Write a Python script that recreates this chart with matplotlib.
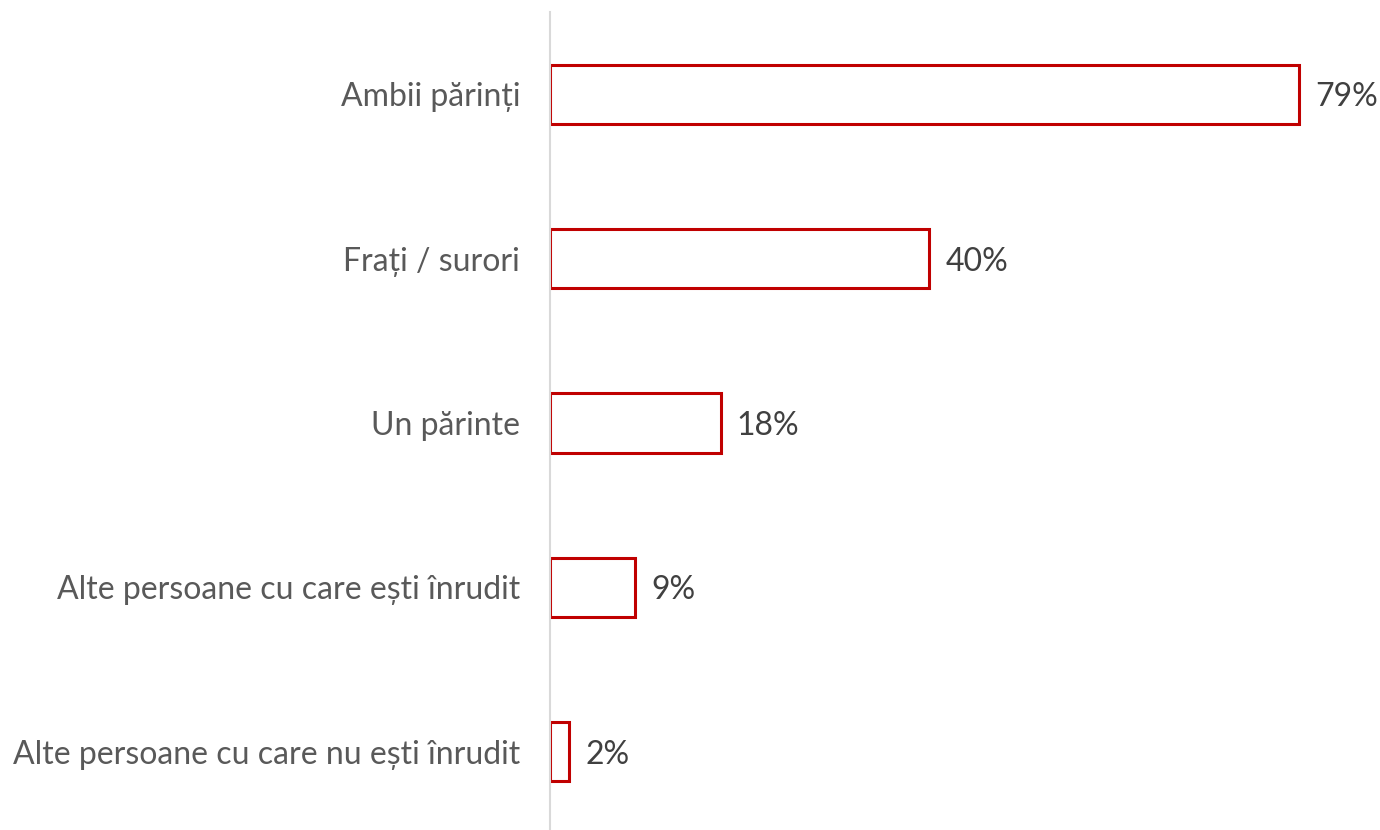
import matplotlib
matplotlib.use("Agg")
import matplotlib.pyplot as plt

plt.rcParams['font.family'] = ['Lato', 'DejaVu Sans']

categories = [
    "Ambii părinți",
    "Frați / surori",
    "Un părinte",
    "Alte persoane cu care ești înrudit",
    "Alte persoane cu care nu ești înrudit",
]
values = [79, 40, 18, 9, 2]

fig = plt.figure(figsize=(13.8, 8.3), dpi=100)
ax = fig.add_axes([550 / 1380, -4 / 830, 830 / 1380, 822 / 830])

y = list(range(len(categories)))
ax.barh(y, values, height=0.36, color='white', edgecolor='#C00000', linewidth=2.2)

for yi, v in zip(y, values):
    ax.text(v + 1.7, yi, f"{v}%", va='center_baseline', ha='left', fontsize=23, color='#404040')

ax.set_yticks(y)
ax.set_yticklabels(categories, fontsize=23, color='#595959', va='center_baseline')
ax.tick_params(axis='y', length=0, pad=21.5)
ax.set_xticks([])
ax.set_xlim(0, 87.5)
ax.set_ylim(len(categories) - 0.5, -0.5)

for s in ['top', 'right', 'bottom']:
    ax.spines[s].set_visible(False)
ax.spines['left'].set_color('#D9D9D9')
ax.spines['left'].set_linewidth(1.5)

fig.savefig("out.png", dpi=100)
